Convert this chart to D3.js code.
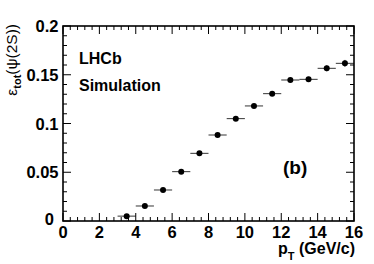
<!DOCTYPE html>
<html>
<head>
<meta charset="utf-8" />
<script src="https://d3js.org/d3.v7.min.js"></script>
<style>
  body { margin: 0; background: #fff; }
  svg { display: block; }
  text { font-family: "Liberation Sans", Arial, sans-serif; }
</style>
</head>
<body>
<svg class="main" width="374" height="264"></svg>
<script>
// bin centres (GeV/c), half widths, efficiency and its error
var ptCenters = [3.5, 4.5, 5.5, 6.5, 7.5, 8.5, 9.5, 10.5, 11.5, 12.5, 13.5, 14.5, 15.5]
var ptHalfWidth = [0.5, 0.5, 0.5, 0.5, 0.5, 0.5, 0.5, 0.5, 0.5, 0.5, 0.5, 0.5, 0.5]
var effValues = [0.005, 0.0154, 0.0318, 0.0506, 0.0694, 0.0882, 0.105, 0.118, 0.1306, 0.1446, 0.1453, 0.1566, 0.1617]
var effErrors = [0.0008, 0.001, 0.001, 0.0012, 0.0012, 0.0014, 0.0015, 0.0017, 0.002, 0.0022, 0.0025, 0.003, 0.0035]
var xTicks = [0, 2, 4, 6, 8, 10, 12, 14, 16]
var yTicks = [0, 0.05, 0.1, 0.15, 0.2]

var data = ptCenters.map(function (c, i) {
  return {x: c, dx: ptHalfWidth[i], y: effValues[i], dy: effErrors[i]}
})

var svg = d3.select("svg.main")
var fLeft = 63, fRight = 354, fTop = 26, fBottom = 221

var x = d3.scaleLinear().domain([0, 16]).range([fLeft, fRight])
var y = d3.scaleLinear().domain([0, 0.2]).range([fBottom, fTop])

// ticks drawn inward on all four sides, ROOT style
var xMinor = d3.range(0, 16.001, 0.4)
var yMinor = d3.range(0, 0.2001, 0.01)

var g = svg.append("g").attr("stroke", "#000").attr("stroke-width", 1)
xMinor.forEach(function (v) {
  var major = Math.abs(v / 2 - Math.round(v / 2)) < 1e-6
  var len = major ? 8 : 4
  g.append("line").attr("x1", x(v)).attr("x2", x(v)).attr("y1", fBottom).attr("y2", fBottom - len)
  g.append("line").attr("x1", x(v)).attr("x2", x(v)).attr("y1", fTop).attr("y2", fTop + len)
})
yMinor.forEach(function (v) {
  var major = Math.abs(v / 0.05 - Math.round(v / 0.05)) < 1e-6
  var len = major ? 8 : 4
  g.append("line").attr("y1", y(v)).attr("y2", y(v)).attr("x1", fLeft).attr("x2", fLeft + len)
  g.append("line").attr("y1", y(v)).attr("y2", y(v)).attr("x1", fRight).attr("x2", fRight - len)
})

svg.append("rect")
  .attr("x", fLeft).attr("y", fTop)
  .attr("width", fRight - fLeft).attr("height", fBottom - fTop)
  .attr("fill", "none").attr("stroke", "#000").attr("stroke-width", 1.6)

// tick labels
svg.append("g").selectAll("text").data(xTicks).enter().append("text")
  .attr("x", function (d) { return x(d) })
  .attr("y", 238)
  .attr("text-anchor", "middle")
  .style("font-size", "16.5px").style("font-weight", "bold")
  .text(function (d) { return d })

svg.append("g").selectAll("text").data(yTicks).enter().append("text")
  .attr("x", function (d) { return d === 0 ? 54 : 58.5 })
  .attr("y", function (d) { return y(d) + (d === 0 ? 4 : 6) })
  .attr("text-anchor", "end")
  .style("font-size", "16.5px").style("font-weight", "bold")
  .text(function (d) { return d })

// axis titles
var xt = svg.append("text")
  .attr("x", 355).attr("y", 254)
  .attr("text-anchor", "end")
  .style("font-size", "16px").style("font-weight", "bold")
xt.append("tspan").text("p")
xt.append("tspan").attr("dy", 6).style("font-size", "11px").text("T")
xt.append("tspan").attr("dy", -6).text(" (GeV/c)")

var yt = svg.append("text")
  .attr("transform", "translate(17,24) rotate(-90)")
  .attr("text-anchor", "end")
  .style("font-size", "15.5px")
yt.append("tspan").text("\u03b5")
yt.append("tspan").attr("dy", 4).style("font-size", "11px").style("font-weight", "bold").text("tot")
yt.append("tspan").attr("dy", -4).text("(\u03c8(2S))")

// labels in the frame
svg.append("text").attr("x", 79).attr("y", 64)
  .style("font-size", "16px").style("font-weight", "bold").text("LHCb")
svg.append("text").attr("x", 79).attr("y", 91)
  .style("font-size", "16px").style("font-weight", "bold").text("Simulation")
svg.append("text").attr("x", 283).attr("y", 174)
  .style("font-size", "19px").style("font-weight", "bold").text("(b)")

// points with error bars
var pts = svg.append("g").selectAll("g.pt").data(data).enter().append("g").attr("class", "pt")
pts.append("line")
  .attr("x1", function (d) { return x(d.x - d.dx) })
  .attr("x2", function (d) { return x(d.x + d.dx) })
  .attr("y1", function (d) { return y(d.y) })
  .attr("y2", function (d) { return y(d.y) })
  .attr("stroke", "#000").attr("stroke-width", 0.8)
pts.append("line")
  .attr("x1", function (d) { return x(d.x) })
  .attr("x2", function (d) { return x(d.x) })
  .attr("y1", function (d) { return y(d.y - d.dy) })
  .attr("y2", function (d) { return y(d.y + d.dy) })
  .attr("stroke", "#000").attr("stroke-width", 0.8)
pts.append("circle")
  .attr("cx", function (d) { return x(d.x) })
  .attr("cy", function (d) { return y(d.y) })
  .attr("r", 3)
  .attr("fill", "#000")
</script>
</body>
</html>
